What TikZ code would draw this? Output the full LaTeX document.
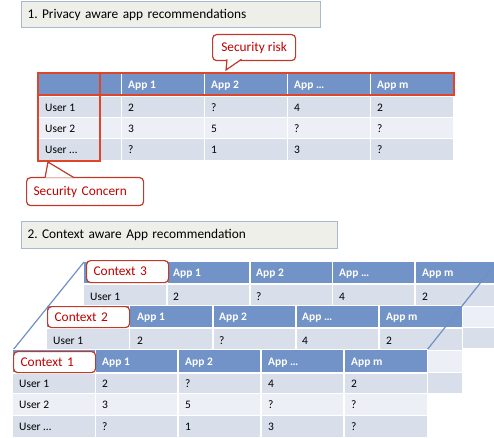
\documentclass[tikz,border=0pt]{standalone}
\usepackage{fontspec}
\setmainfont{Carlito}
\frenchspacing
\definecolor{hdrblue}{HTML}{7293C8}
\definecolor{rowdark}{HTML}{D8DEEA}
\definecolor{rowlight}{HTML}{ECEFF5}
\definecolor{titlefill}{HTML}{EFEFE9}
\definecolor{titleline}{HTML}{AAB8CD}
\definecolor{markred}{HTML}{E0452A}
\definecolor{calloutred}{HTML}{BF3A2B}
\definecolor{txtred}{HTML}{C00000}
\definecolor{diagblue}{HTML}{6F90C6}
\tikzset{
  titlebox/.style={draw=titleline,fill=titlefill,line width=1bp,anchor=north west,inner xsep=6bp,align=left,font=\fontsize{13.4}{16}\selectfont},
  callout/.style={draw=calloutred,fill=white,line width=1.2bp,rounded corners=4bp,text=txtred,font=\fontsize{13.4}{16}\selectfont,anchor=north west},
  calloutline/.style={draw=calloutred,fill=white,line width=1.2bp},
  ctxbox/.style={callout,text width=68bp,inner xsep=7bp,align=left,minimum height=21bp},
  cell/.style={anchor=base west,inner sep=0pt,font=\fontsize{11.5}{13}\selectfont},
  appcell/.style={cell,text=white,font=\fontsize{11.5}{13}\selectfont\bfseries},
  sep/.style={white,line width=1.5bp},
  hsep/.style={white,line width=1bp},
  redmark/.style={draw=markred,line width=2bp},
}
\begin{document}
\begin{tikzpicture}[x=1bp,y=-1bp]
 \useasboundingbox (0,0) rectangle (494,438);
 \node (title1) [titlebox,text width=287bp,minimum height=26bp] at (21,1) {1. Privacy aware app recommendations};

 \fill[hdrblue] (38,74) rectangle (453,95);
 \fill[rowdark] (38,97) rectangle (453,118);
 \fill[rowlight] (38,118) rectangle (453,139);
 \fill[rowdark] (38,139) rectangle (453,160);
 \draw[hsep] (38,118) -- (453,118) (38,139) -- (453,139);
 \draw[sep] (121.5,74) -- (121.5,160) (204.5,74) -- (204.5,160) (287.5,74) -- (287.5,160) (370.5,74) -- (370.5,160);
 \node (pa app1) [appcell] at (128,88.5) {App 1};
 \node (pa app2) [appcell] at (211,88.5) {App 2};
 \node (pa app3) [appcell] at (294,88.5) {App …};
 \node (pa appm) [appcell] at (377,88.5) {App m};
 \node (pa user1) [cell] at (45,111.5) {User 1};
 \node (pa r1c1) [cell] at (128,111.5) {2};
 \node (pa r1c2) [cell] at (211,111.5) {?};
 \node (pa r1c3) [cell] at (294,111.5) {4};
 \node (pa r1c4) [cell] at (377,111.5) {2};
 \node (pa user2) [cell] at (45,132.5) {User 2};
 \node (pa r2c1) [cell] at (128,132.5) {3};
 \node (pa r2c2) [cell] at (211,132.5) {5};
 \node (pa r2c3) [cell] at (294,132.5) {?};
 \node (pa r2c4) [cell] at (377,132.5) {?};
 \node (pa user3) [cell] at (45,153.5) {User …};
 \node (pa r3c1) [cell] at (128,153.5) {?};
 \node (pa r3c2) [cell] at (211,153.5) {1};
 \node (pa r3c3) [cell] at (294,153.5) {3};
 \node (pa r3c4) [cell] at (377,153.5) {?};
 \draw[redmark] (38,73.5) rectangle (453.5,95.5);
 \draw[redmark] (38,73.5) rectangle (100,161.5);

 \node (risk) [callout,minimum width=83bp,minimum height=26bp] at (212,34) {Security risk};
 \coordinate (risk tip) at (226,70);
 \draw[calloutline] (227,59.3) -- (risk tip) -- (241.5,59.3);
 \node (concern) [callout,text width=103bp,inner xsep=7bp,align=left,minimum height=28bp] at (26,177) {Security Concern};
 \coordinate (concern tip) at (48,162);
 \draw[calloutline] (45,177.7) -- (concern tip) -- (74,177.7);

 \node (title2) [titlebox,text width=304bp,minimum height=27bp] at (21,221) {2. Context aware App recommendation};

 \fill[hdrblue] (84,262) rectangle (500,283);
 \fill[rowdark] (84,285) rectangle (500,306);
 \fill[rowlight] (84,306) rectangle (500,327);
 \fill[rowdark] (84,327) rectangle (500,348);
 \draw[hsep] (84,306) -- (500,306) (84,327) -- (500,327);
 \draw[sep] (167,262) -- (167,348) (250,262) -- (250,348) (332.5,262) -- (332.5,348) (415,262) -- (415,348);
 \node (ctx3) [ctxbox,minimum height=22bp] at (86,260) {Context 3};
 \node (c3 app1) [appcell] at (173,276.5) {App 1};
 \node (c3 app2) [appcell] at (256,276.5) {App 2};
 \node (c3 app3) [appcell] at (339,276.5) {App …};
 \node (c3 appm) [appcell] at (422,276.5) {App m};
 \node (c3 user1) [cell] at (90,300) {User 1};
 \node (c3 r1c1) [cell] at (173,300) {2};
 \node (c3 r1c2) [cell] at (256,300) {?};
 \node (c3 r1c3) [cell] at (339,300) {4};
 \node (c3 r1c4) [cell] at (422,300) {2};

 \fill[white] (46,305) rectangle (463,394);
 \fill[hdrblue] (47,306) rectangle (462,327);
 \fill[rowdark] (47,329) rectangle (462,350);
 \fill[rowlight] (47,350) rectangle (462,372);
 \fill[rowdark] (47,372) rectangle (462,393);
 \draw[hsep] (47,350) -- (462,350) (47,372) -- (462,372);
 \draw[sep] (129.5,306) -- (129.5,393) (213,306) -- (213,393) (296,306) -- (296,393) (379,306) -- (379,393);
 \node (ctx2) [ctxbox] at (47,306) {Context 2};
 \node (c2 app1) [appcell] at (137,320.5) {App 1};
 \node (c2 app2) [appcell] at (219,320.5) {App 2};
 \node (c2 app3) [appcell] at (302,320.5) {App …};
 \node (c2 appm) [appcell] at (386,320.5) {App m};
 \node (c2 user1) [cell] at (53,344) {User 1};
 \node (c2 r1c1) [cell] at (137,344) {2};
 \node (c2 r1c2) [cell] at (219,344) {?};
 \node (c2 r1c3) [cell] at (302,344) {4};
 \node (c2 r1c4) [cell] at (386,344) {2};

 \coordinate (c3 nw) at (84,262);
 \coordinate (c3 ne) at (497,262);
 \coordinate (c1 nw) at (13,350);
 \coordinate (c1 ne) at (427,350);
 \draw[diagblue,line width=1.2bp] (c3 nw) -- (c1 nw);
 \draw[diagblue,line width=1.2bp] (c3 ne) -- (c1 ne);

 \fill[white] (12,349) rectangle (428,438);
 \fill[hdrblue] (13,350) rectangle (427,372);
 \fill[rowdark] (13,374) rectangle (427,393);
 \fill[rowlight] (13,393) rectangle (427,415);
 \fill[rowdark] (13,415) rectangle (427,437);
 \draw[hsep] (13,393.5) -- (427,393.5) (13,415) -- (427,415);
 \draw[sep] (95.5,350) -- (95.5,437) (178,350) -- (178,437) (261,350) -- (261,437) (344,350) -- (344,437);
 \node (ctx1) [ctxbox] at (13,351) {Context 1};
 \node (c1 app1) [appcell] at (102,365) {App 1};
 \node (c1 app2) [appcell] at (185,365) {App 2};
 \node (c1 app3) [appcell] at (268,365) {App …};
 \node (c1 appm) [appcell] at (351,365) {App m};
 \node (c1 user1) [cell] at (19,387.5) {User 1};
 \node (c1 r1c1) [cell] at (102,387.5) {2};
 \node (c1 r1c2) [cell] at (185,387.5) {?};
 \node (c1 r1c3) [cell] at (268,387.5) {4};
 \node (c1 r1c4) [cell] at (351,387.5) {2};
 \node (c1 user2) [cell] at (19,408.5) {User 2};
 \node (c1 r2c1) [cell] at (102,408.5) {3};
 \node (c1 r2c2) [cell] at (185,408.5) {5};
 \node (c1 r2c3) [cell] at (268,408.5) {?};
 \node (c1 r2c4) [cell] at (351,408.5) {?};
 \node (c1 user3) [cell] at (19,430) {User …};
 \node (c1 r3c1) [cell] at (102,430) {?};
 \node (c1 r3c2) [cell] at (185,430) {1};
 \node (c1 r3c3) [cell] at (268,430) {3};
 \node (c1 r3c4) [cell] at (351,430) {?};
\end{tikzpicture}
\end{document}
